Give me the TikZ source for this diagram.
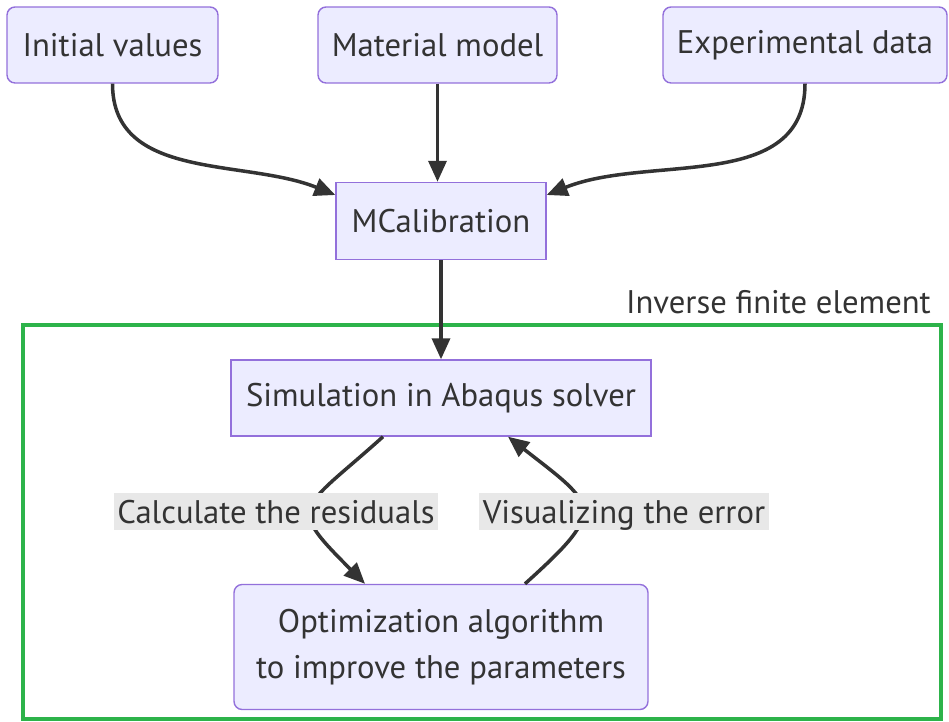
\documentclass[tikz,border=0pt]{standalone}
\usepackage{fontspec}
\setmainfont{PT Sans}
\usetikzlibrary{arrows.meta,positioning}
\definecolor{boxfill}{HTML}{ECECFF}
\definecolor{boxline}{HTML}{9370DB}
\definecolor{inkgray}{HTML}{333333}
\definecolor{framegreen}{HTML}{2DB34A}
\definecolor{labelbg}{HTML}{E8E8E8}

\begin{document}
\begin{tikzpicture}[x=0.02cm,y=0.02cm,font=\fontsize{18.6}{26.6}\selectfont,>={Triangle[length=0.42cm,width=0.36cm]},
  box/.style={draw=boxline,fill=boxfill,line width=0.8pt,text=inkgray,minimum height=1.52cm,inner sep=0pt},
  rbox/.style={box,rounded corners=0.16cm},
  flow/.style={->,draw=inkgray,line width=2pt},
  elabel/.style={fill=labelbg,text=inkgray,inner ysep=0pt,inner xsep=2pt,text height=17.6pt,text depth=3.4pt}]
  \useasboundingbox (0,0) rectangle (949,-722);
  % inputs
  \node[rbox,minimum width=4.22cm] (init) at (112.5,-45) {Initial values};
  \node[rbox,minimum width=4.78cm] (matm) at (437.5,-45) {Material model};
  \node[rbox,minimum width=5.68cm] (expd) at (805,-45) {Experimental data};
  \node[box,minimum width=4.2cm,minimum height=1.54cm] (mcal) at (441,-221) {MCalibration};
  % inverse FE loop
  \node[draw=framegreen,line width=2.3pt,minimum width=18.36cm,minimum height=7.88cm] (ife) at (482,-522) {};
  \node[anchor=east,text=inkgray] (ifelabel) at (937,-302) {Inverse finite element};
  \node[box,minimum width=8.4cm] (sim) at (441,-398) {Simulation in Abaqus solver};
  \node[rbox,minimum width=8.28cm,minimum height=2.5cm,align=center] (opt) at (441,-647)
  {Optimization algorithm\\to improve the parameters};
  \draw[flow] (init.south) to[out=-90,in=158] ([yshift=0.52cm]mcal.west);
  \draw[flow] (matm.south) -- (matm.south |- mcal.north);
  \draw[flow] (expd.south) to[out=-90,in=22] ([yshift=0.52cm]mcal.east);
  \draw[flow] (mcal) -- (sim);
  \draw[flow] ([xshift=-1.16cm]sim.south) to[out=-138,in=135,looseness=1.95] ([xshift=-1.52cm]opt.north);
  \draw[flow] ([xshift=1.68cm]opt.north) to[out=42,in=-38,looseness=1.95] ([xshift=1.34cm]sim.south);
  \node[elabel] (lres) at (276,-511.5) {Calculate the residuals};
  \node[elabel] (lerr) at (624,-511.5) {Visualizing the error};
\end{tikzpicture}
\end{document}
